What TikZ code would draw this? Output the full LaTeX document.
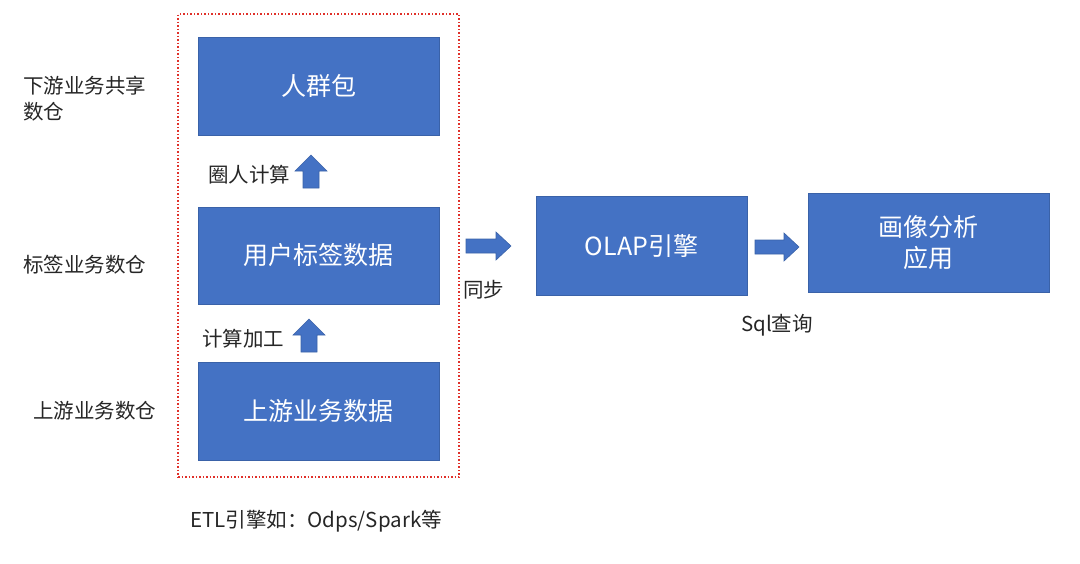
\documentclass[tikz,border=0pt]{standalone}
\usepackage{fontspec}
\setmainfont{Noto Sans CJK SC}
\definecolor{boxblue}{HTML}{4472C4}
\definecolor{boxedge}{HTML}{3A62A8}
\definecolor{dotred}{HTML}{E0302A}
\begin{document}
\begin{tikzpicture}[x=1pt,y=-1pt,
  blk/.style={draw=boxedge,line width=0.8pt,fill=boxblue,text=white,font=\fontsize{25}{31}\selectfont,align=center,inner sep=0pt},
  lbl/.style={font=\fontsize{20.5}{26}\selectfont,text=black!85,inner sep=0pt},
  barrow/.style={draw=boxedge,line width=0.6pt,fill=boxblue},
]
\useasboundingbox (0,0) rectangle (1080,563);
\node[draw=dotred,dotted,line width=1.5pt,minimum width=281,minimum height=463,inner sep=0pt] (etl) at (318.5,245.5) {};
\node[blk,minimum width=241,minimum height=98] (crowd) at (318.5,86) {人群包};
\node[blk,minimum width=241,minimum height=97] (tag) at (318.5,255.5) {用户标签数据};
\node[blk,minimum width=241,minimum height=98] (up) at (318.5,411) {上游业务数据};
\node[blk,minimum width=211,minimum height=99] (olap) at (641.5,245.5) {OLAP引擎};
\node[blk,minimum width=241,minimum height=99] (app) at (928.5,242.5) {画像分析\\应用};
% up arrow 1
\draw[barrow] (303,188) -- (303,171) -- (295,171) -- (311,155) -- (327,171) -- (319,171) -- (319,188) -- cycle;
% up arrow 2
\draw[barrow] (301,352) -- (301,335) -- (293,335) -- (309,319) -- (325,335) -- (317,335) -- (317,352) -- cycle;
% right arrow 1
\draw[barrow] (466,239) -- (496,239) -- (496,232) -- (511,246) -- (496,260) -- (496,253) -- (466,253) -- cycle;
% right arrow 2
\draw[barrow] (755,240) -- (784,240) -- (784,233) -- (799,247) -- (784,261) -- (784,254) -- (755,254) -- cycle;
\node[lbl,anchor=west,align=left] (l1) at (23,99) {下游业务共享\\数仓};
\node[lbl,anchor=west] (l2) at (23,265) {标签业务数仓};
\node[lbl,anchor=west] (l3) at (33,411) {上游业务数仓};
\node[lbl,anchor=west] (l4) at (208,175) {圈人计算};
\node[lbl,anchor=west] (l5) at (202,339) {计算加工};
\node[lbl,anchor=west] (l6) at (463,290) {同步};
\node[lbl,anchor=west] (l7) at (741,325) {Sql查询};
\node[lbl,anchor=west] (l8) at (190,521) {ETL引擎如：Odps/Spark等};
\end{tikzpicture}
\end{document}
